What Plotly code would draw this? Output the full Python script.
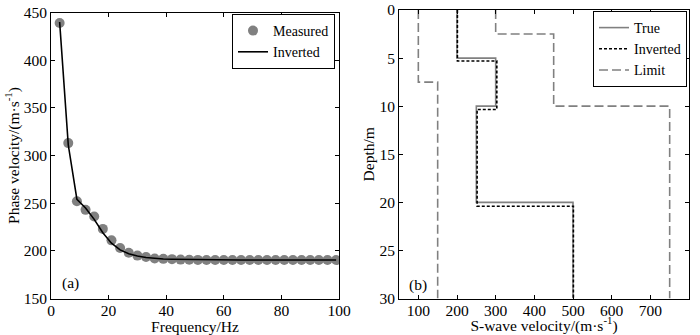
import plotly.graph_objects as go

# ---- Panel (a): dispersion curve ----
freq_hz = [3, 6, 9, 12, 15, 18, 21, 24, 27, 30, 33, 36, 39, 42, 45, 48, 51,
           54, 57, 60, 63, 66, 69, 72, 75, 78, 81, 84, 87, 90, 93, 96, 99]
measured_vel = [439, 313, 252, 243, 236, 223, 211, 203, 198, 195, 193.5, 192,
                191.6, 191.3, 190.8, 190.6, 190.5, 190.4, 190.4, 190.3, 190.3,
                190.3, 190.3, 190.3, 190.3, 190.3, 190.3, 190.3, 190.3, 190.3,
                190.3, 190.3, 190.3]
inverted_vel = [440, 311, 254, 245, 233, 219, 208, 201, 197, 194.5, 193, 192,
                191.5, 191.2, 191, 190.8, 190.7, 190.6, 190.5, 190.5, 190.4,
                190.4, 190.4, 190.4, 190.4, 190.4, 190.4, 190.4, 190.4, 190.4,
                190.4, 190.4, 190.4]

# ---- Panel (b): S-wave velocity profiles ----
true_depth = [0, 5, 10, 20, 30]
true_vs = [200, 300, 250, 500, 500]
inv_depth = [0, 5.3, 10.35, 20.4, 30]
inv_vs = [201, 303, 252, 501, 501]
limit_low_depth = [0, 7.5, 30]
limit_low_vs = [100, 150, 150]
limit_high_depth = [0, 2.5, 10, 30]
limit_high_vs = [300, 450, 750, 750]

FONT = "Liberation Serif, Times New Roman, serif"
GRAY = "#808080"
FS = 15.5
LFS = 14

fig = go.Figure()

fig.add_trace(go.Scatter(x=freq_hz, y=measured_vel, mode="markers", name="Measured",
                         marker=dict(color=GRAY, size=10, line=dict(width=0)),
                         xaxis="x", yaxis="y", legend="legend"))
fig.add_trace(go.Scatter(x=freq_hz, y=inverted_vel, mode="lines", name="Inverted",
                         line=dict(color="black", width=1.6),
                         xaxis="x", yaxis="y", legend="legend"))

fig.add_trace(go.Scatter(x=true_vs, y=true_depth, mode="lines", name="True",
                         line=dict(color=GRAY, width=1.6, shape="vh"),
                         xaxis="x2", yaxis="y2", legend="legend2"))
fig.add_trace(go.Scatter(x=inv_vs, y=inv_depth, mode="lines", name="Inverted",
                         line=dict(color="black", width=1.6, shape="vh", dash="3px,2px"),
                         xaxis="x2", yaxis="y2", legend="legend2"))
fig.add_trace(go.Scatter(x=limit_low_vs, y=limit_low_depth, mode="lines", name="Limit",
                         line=dict(color=GRAY, width=1.6, shape="vh", dash="9px,4px"),
                         xaxis="x2", yaxis="y2", legend="legend2"))
fig.add_trace(go.Scatter(x=limit_high_vs, y=limit_high_depth, mode="lines", name="Limit",
                         line=dict(color=GRAY, width=1.6, shape="vh", dash="9px,4px"),
                         showlegend=False, xaxis="x2", yaxis="y2", legend="legend2"))

W, H = 700, 335
axis_common = dict(showline=True, linecolor="black", linewidth=1, mirror="ticks",
                   ticks="inside", ticklen=4, tickcolor="black", showgrid=False,
                   zeroline=False, automargin=False,
                   tickfont=dict(family=FONT, size=FS, color="black"))
title_font = dict(family=FONT, size=FS, color="black")

fig.update_layout(
    template="none",
    width=W, height=H, autosize=False,
    margin=dict(l=0, r=0, t=0, b=0, pad=0),
    paper_bgcolor="white", plot_bgcolor="white",
    font=dict(family=FONT, size=FS, color="black"),
    xaxis=dict(domain=[51 / W, 339 / W], range=[0, 100], tickvals=[0, 20, 40, 60, 80, 100],
               ticklabelstandoff=-2,
               title=dict(text="Frequency/Hz", standoff=0, font=title_font),
               anchor="y", **axis_common),
    yaxis=dict(domain=[1 - 298.5 / H, 1 - 12.5 / H], range=[150, 450],
               tickvals=[150, 200, 250, 300, 350, 400, 450],
               title=dict(text="Phase velocity/(m·s<sup>-1</sup>)", standoff=0, font=title_font),
               anchor="x", **axis_common),
    xaxis2=dict(domain=[399 / W, 689 / W], range=[50, 800],
                tickvals=[100, 200, 300, 400, 500, 600, 700, 800],
                ticklabelstandoff=-2,
                title=dict(text="S-wave velocity/(m·s<sup>-1</sup>)", standoff=0, font=title_font),
                anchor="y2", **axis_common),
    yaxis2=dict(domain=[1 - 298.5 / H, 1 - 10 / H], range=[30, 0],
                tickvals=[0, 5, 10, 15, 20, 25, 30],
                title=dict(text="Depth/m", standoff=0, font=title_font),
                anchor="x2", **axis_common),
    legend=dict(x=335 / W, y=1 - 14 / H, xanchor="right", yanchor="top",
                bgcolor="white", bordercolor="black", borderwidth=1,
                font=dict(family=FONT, size=LFS), itemwidth=30, tracegroupgap=0),
    legend2=dict(x=687 / W, y=1 - 11 / H, xanchor="right", yanchor="top",
                 bgcolor="white", bordercolor="black", borderwidth=1,
                 font=dict(family=FONT, size=LFS), itemwidth=30, tracegroupgap=0),
    showlegend=True,
    annotations=[
        dict(text="(a)", x=3, y=166, xref="x", yref="y", xanchor="left", yanchor="middle",
             showarrow=False, font=dict(family=FONT, size=FS)),
        dict(text="(b)", x=70, y=28.6, xref="x2", yref="y2", xanchor="left", yanchor="middle",
             showarrow=False, font=dict(family=FONT, size=FS)),
    ],
)

fig.write_html("out.html", config={"displayModeBar": False},
               post_script="document.body.style.margin='0';document.body.style.overflow='hidden';")
